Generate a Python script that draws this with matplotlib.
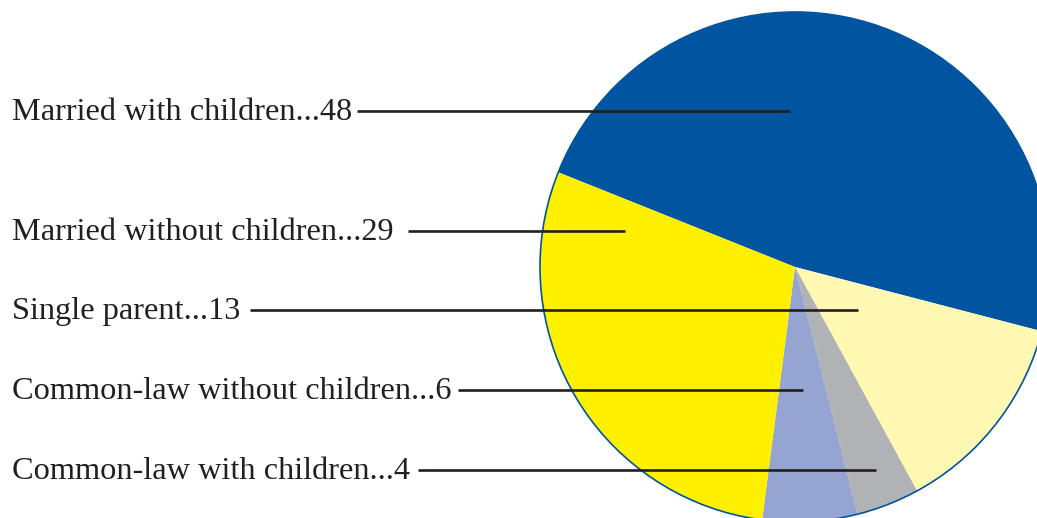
import matplotlib.pyplot as plt
from matplotlib.patches import Circle

# ---------------------------
# Data
# ---------------------------
labels = ["Married with children", "Single parent", "Common-law with children",
          "Common-law without children", "Married without children"]
values = [48, 13, 4, 6, 29]
colors = ["#0054a0", "#fff8b2", "#b1b2b5", "#95a4d0", "#fff000"]

# label order from top to bottom on the left side
label_order = ["Married with children", "Married without children", "Single parent",
               "Common-law without children", "Common-law with children"]

# layout (pixels, y measured from the top)
label_y = [111, 231, 310, 390, 470]
line_start_x = [357, 408, 250, 458, 418]
line_end_x = [790, 625, 858, 803, 876]
W, H = 1037, 518
cx, cy, R = 795, 267, 255

fig = plt.figure(figsize=(W / 100, H / 100), dpi=100)
ax = fig.add_axes([0, 0, 1, 1])

ax.pie(values, colors=colors, startangle=158.2, counterclock=False,
       center=(cx, H - cy), radius=R, frame=True,
       wedgeprops=dict(linewidth=0))
ax.set_xlim(0, W)
ax.set_ylim(0, H)
ax.set_aspect("equal")
ax.axis("off")
ax.add_patch(Circle((cx, H - cy), R, fill=False, edgecolor="#0054a0", lw=1.2))

for name, y, xs, xe in zip(label_order, label_y, line_start_x, line_end_x):
    v = values[labels.index(name)]
    ax.text(12, H - y - 9, f"{name}...{v}", fontsize=23.3, family="Liberation Serif",
            color="#231f20", va="baseline", ha="left")
    ax.plot([xs, xe], [H - y, H - y], color="#231f20", lw=1.9, solid_capstyle="butt")

fig.savefig("out.png", dpi=100)
